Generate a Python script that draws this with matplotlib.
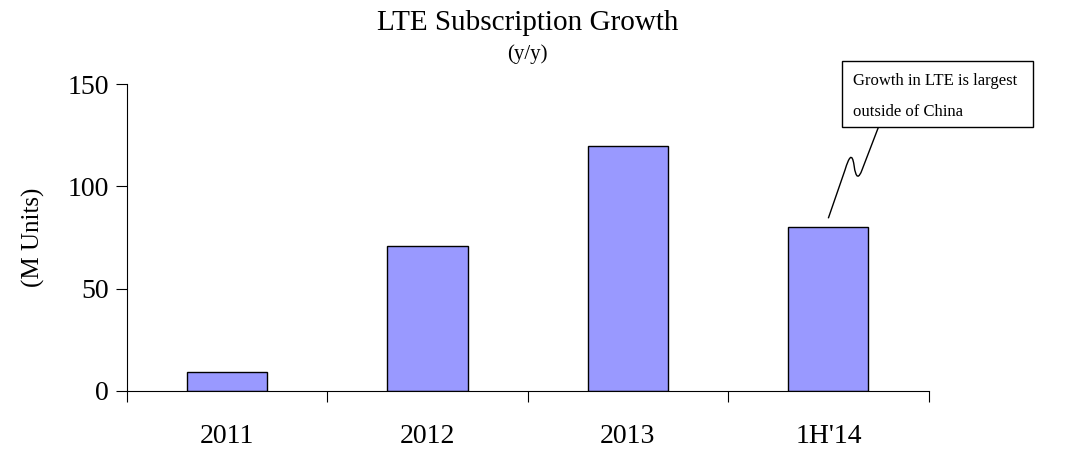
import matplotlib
matplotlib.use("Agg")
import matplotlib.pyplot as plt
from matplotlib.patches import Rectangle, PathPatch
from matplotlib.path import Path

categories = ["2011", "2012", "2013", "1H'14"]
values = [9, 71, 120, 80]
yticks = [0, 50, 100, 150]

plt.rcParams['font.family'] = ['Liberation Serif', 'DejaVu Serif']

W, H = 1083, 451
fig = plt.figure(figsize=(W / 100, H / 100), dpi=100)
ax = fig.add_axes([126.7 / W, 1 - 390.7 / H, (928.6 - 126.7) / W, (390.7 - 84.3) / H])

x = list(range(len(categories)))
ax.bar(x, values, width=0.4, color="#9999FF", edgecolor="black", linewidth=1.0)
ax.set_xlim(-0.5, len(categories) - 0.5)
ax.set_ylim(0, 150)
ax.set_yticks(yticks)
ax.set_yticklabels([str(v) for v in yticks], fontsize=20)
ax.set_xticks([i - 0.5 for i in range(len(categories) + 1)], minor=False)
ax.set_xticklabels([""] * (len(categories) + 1))
ax.set_xticks(x, minor=True)
ax.set_xticklabels(categories, minor=True, fontsize=20)
ax.tick_params(axis="x", which="minor", length=0, pad=24)
ax.tick_params(axis="x", which="major", length=8, width=0.8, direction="out")
ax.tick_params(axis="y", length=8, width=0.8, direction="out", pad=5)
for s in ["top", "right"]:
    ax.spines[s].set_visible(False)
ax.spines["left"].set_linewidth(0.8)
ax.spines["bottom"].set_linewidth(0.8)
ax.set_ylabel("(M Units)", fontsize=18, labelpad=16)

def px(xp, yp):
    return (xp / W, 1 - yp / H)

fig.text(*px(527.6, 30), "LTE Subscription Growth", ha="center", va="baseline", fontsize=21)
fig.text(*px(527.6, 59), "(y/y)", ha="center", va="baseline", fontsize=15)

# callout box
bx0, by0, bx1, by1 = 841.7, 60.7, 1033, 126.7
fig.patches.append(Rectangle(px(bx0, by1), (bx1 - bx0) / W, (by1 - by0) / H,
                             transform=fig.transFigure, facecolor="white",
                             edgecolor="black", linewidth=1.0))
fig.text(*px(853, 85), "Growth in LTE is largest", ha="left", va="baseline", fontsize=12)
fig.text(*px(853, 116), "outside of China", ha="left", va="baseline", fontsize=12)

verts = [px(828.3, 218.3), px(845, 170),
         px(849, 157), px(852, 152), px(854, 165),
         px(856, 180), px(859, 178), px(862, 170),
         px(878.3, 127.5)]
codes = [Path.MOVETO, Path.LINETO,
         Path.CURVE4, Path.CURVE4, Path.CURVE4,
         Path.CURVE4, Path.CURVE4, Path.CURVE4,
         Path.LINETO]
fig.patches.append(PathPatch(Path(verts, codes), transform=fig.transFigure,
                             facecolor="none", edgecolor="black", linewidth=1.0))

fig.savefig("out.png", dpi=100)
